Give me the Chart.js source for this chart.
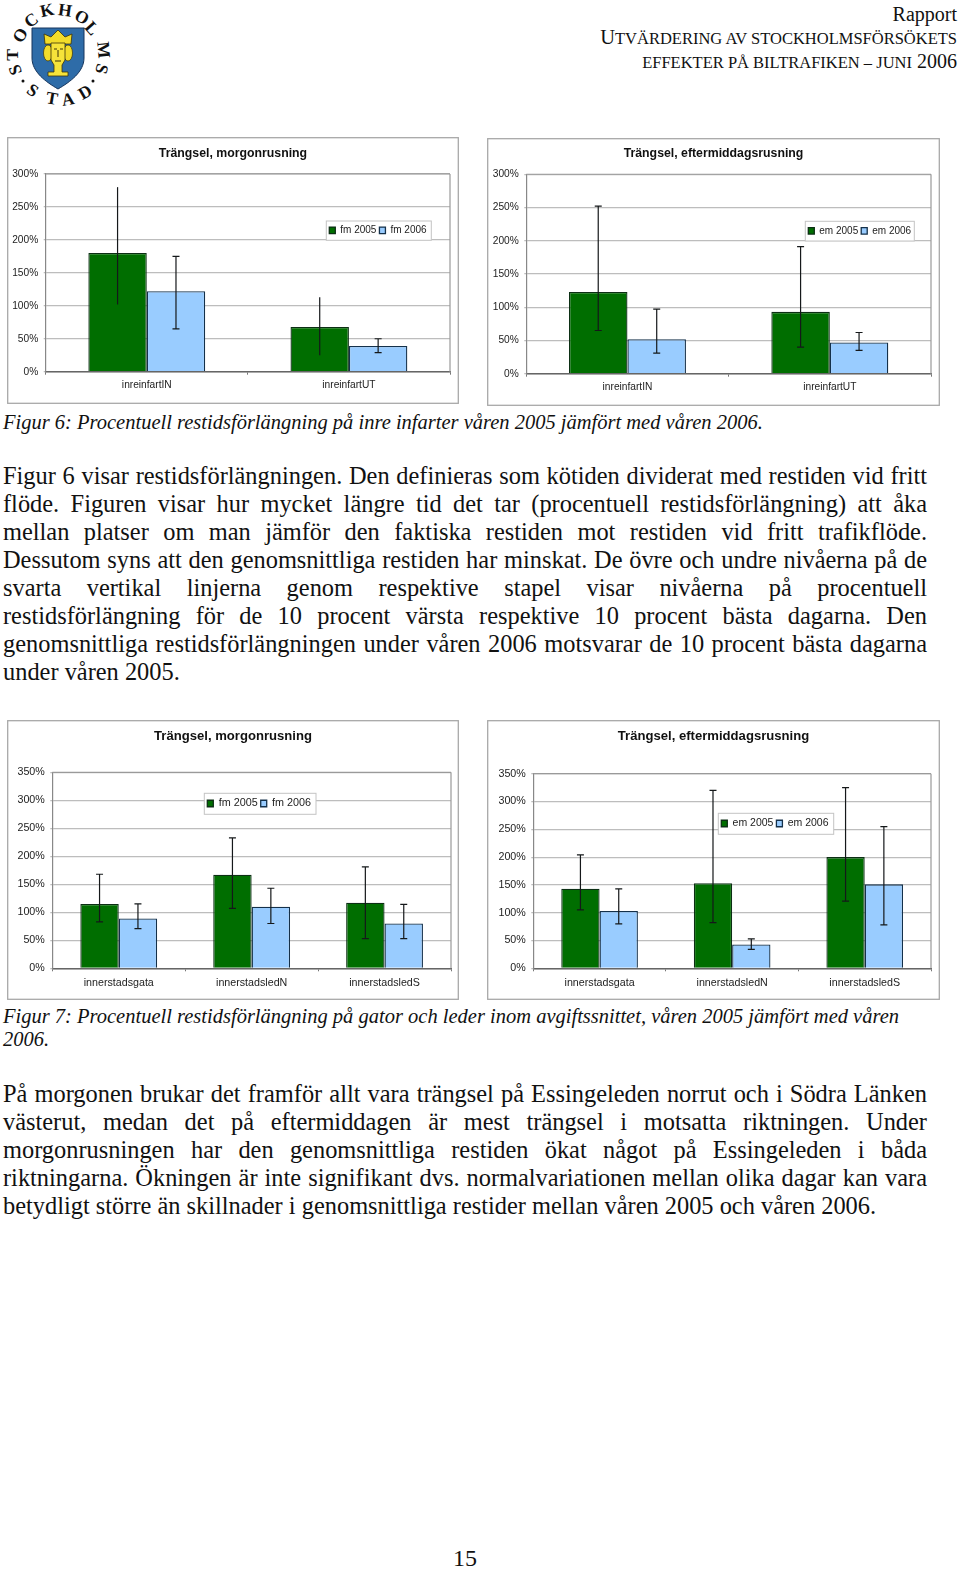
<!DOCTYPE html>
<html lang="sv"><head><meta charset="utf-8">
<script src="https://cdn.jsdelivr.net/npm/chart.js@4"></script>
<style>
html,body{margin:0;padding:0;background:#fff;width:960px;height:1571px;overflow:hidden}
body{position:relative;font-family:"Liberation Serif",serif;color:#111}
.t{position:absolute;white-space:nowrap;line-height:28px;height:28px}
.b{font-size:24.4px;left:3px}
.j{width:924px;white-space:normal;text-align:justify;text-align-last:justify}
.c{font-size:20.5px;font-style:italic;left:3px}
.h{right:3px;text-align:right}
.s{font-size:16.5px}
canvas{position:absolute;display:block}
svg{position:absolute;left:0;top:0}
</style></head><body>
<svg width="130" height="115" viewBox="0 0 130 115">
<path d="M32 28 H84 V58 C84 72 70 82 58 89 C46 82 32 72 32 58 Z" fill="#2e6ca8" stroke="#16355c" stroke-width="1"/>
<path d="M45 44 L44 34 L51 37 L58 30 L65 37 L72 34 L71 44 Z" fill="#f2dc2a" stroke="#3c3208" stroke-width=".8"/>
<ellipse cx="48" cy="53" rx="4.5" ry="8" fill="#f2dc2a" stroke="#3c3208" stroke-width=".7"/>
<ellipse cx="68" cy="53" rx="4.5" ry="8" fill="#f2dc2a" stroke="#3c3208" stroke-width=".7"/>
<path d="M51 43 H65 V60 L62 65 V72 H68 V76 H48 V72 H54 V65 L51 60 Z" fill="#f6e33a" stroke="#3c3208" stroke-width=".8"/>
<path d="M54 49 h3 M60 49 h3 M58 50 v7 M55 61 h6" stroke="#3c3208" stroke-width="1" fill="none"/>
<g font-family="Liberation Serif" font-weight="700" font-size="17.5" fill="#111" text-anchor="middle" dominant-baseline="central">
<text transform="translate(15,70) rotate(-110)">S</text>
<text transform="translate(12,55) rotate(-90)">T</text>
<text transform="translate(20,35) rotate(-60)">O</text>
<text transform="translate(31,20) rotate(-35)">C</text>
<text transform="translate(47,10) rotate(-12)">K</text>
<text transform="translate(65,10) rotate(8)">H</text>
<text transform="translate(82,17) rotate(28)">O</text>
<text transform="translate(92,28) rotate(48)">L</text>
<text transform="translate(104,50) rotate(85)">M</text>
<text transform="translate(102,69) rotate(105)">S</text>
<text transform="translate(33,90) rotate(35)">S</text>
<text transform="translate(52,98) rotate(10)">T</text>
<text transform="translate(68,99) rotate(-10)">A</text>
<text transform="translate(85,92) rotate(-30)">D</text>
</g>
<circle cx="23" cy="81" r="1.5" fill="#111"/><circle cx="93" cy="81" r="1.5" fill="#111"/>
</svg>

<div class="t h" style="top:0;font-size:20px">Rapport</div>
<div class="t h" style="top:23px;font-size:20.5px">U<span class="s">TVÄRDERING AV STOCKHOLMSFÖRSÖKETS</span></div>
<div class="t h" style="top:47px;font-size:20px"><span class="s">EFFEKTER PÅ BILTRAFIKEN – JUNI</span> 2006</div>

<canvas id="c1" width="452" height="267" style="left:7px;top:137px"></canvas>
<canvas id="c2" width="453" height="268" style="left:487px;top:138px"></canvas>
<div class="t c" style="top:408px">Figur 6: Procentuell restidsförlängning på inre infarter våren 2005 jämfört med våren 2006.</div>

<div class="t b j" style="top:462px">Figur 6 visar restidsförlängningen. Den definieras som kötiden dividerat med restiden vid fritt</div>
<div class="t b j" style="top:490px">flöde. Figuren visar hur mycket längre tid det tar (procentuell restidsförlängning) att åka</div>
<div class="t b j" style="top:518px">mellan platser om man jämför den faktiska restiden mot restiden vid fritt trafikflöde.</div>
<div class="t b j" style="top:546px">Dessutom syns att den genomsnittliga restiden har minskat. De övre och undre nivåerna på de</div>
<div class="t b j" style="top:574px">svarta vertikal linjerna genom respektive stapel visar nivåerna på procentuell</div>
<div class="t b j" style="top:602px">restidsförlängning för de 10 procent värsta respektive 10 procent bästa dagarna. Den</div>
<div class="t b j" style="top:630px">genomsnittliga restidsförlängningen under våren 2006 motsvarar de 10 procent bästa dagarna</div>
<div class="t b" style="top:658px">under våren 2005.</div>

<canvas id="c3" width="452" height="280" style="left:7px;top:720px"></canvas>
<canvas id="c4" width="453" height="280" style="left:487px;top:720px"></canvas>
<div class="t c" style="top:1002px">Figur 7: Procentuell restidsförlängning på gator och leder inom avgiftssnittet, våren 2005 jämfört med våren</div>
<div class="t c" style="top:1025px">2006.</div>

<div class="t b j" style="top:1080px">På morgonen brukar det framför allt vara trängsel på Essingeleden norrut och i Södra Länken</div>
<div class="t b j" style="top:1108px">västerut, medan det på eftermiddagen är mest trängsel i motsatta riktningen. Under</div>
<div class="t b j" style="top:1136px">morgonrusningen har den genomsnittliga restiden ökat något på Essingeleden i båda</div>
<div class="t b j" style="top:1164px">riktningarna. Ökningen är inte signifikant dvs. normalvariationen mellan olika dagar kan vara</div>
<div class="t b" style="top:1192px">betydligt större än skillnader i genomsnittliga restider mellan våren 2005 och våren 2006.</div>
<div class="t" style="top:1544px;left:453px;font-size:24px">15</div>

<script>
const catsInfart = ['inreinfartIN', 'inreinfartUT'];
const catsInner = ['innerstadsgata', 'innerstadsledN', 'innerstadsledS'];
const labelsFm = ['fm 2005', 'fm 2006'];
const labelsEm = ['em 2005', 'em 2006'];
const titleFm = 'Trängsel, morgonrusning';
const titleEm = 'Trängsel, eftermiddagsrusning';

const c1v05 = [180, 68],  c1v06 = [122, 39];
const c1hi05 = [280, 113], c1lo05 = [102, 25];
const c1hi06 = [175, 50],  c1lo06 = [65, 29];

const c2v05 = [123, 93],  c2v06 = [52, 47];
const c2hi05 = [252, 191], c2lo05 = [65, 40];
const c2hi06 = [97, 62],   c2lo06 = [31, 35];

const c3v05 = [115, 167, 117], c3v06 = [89, 110, 80];
const c3hi05 = [168, 233, 181], c3lo05 = [83, 107, 53];
const c3hi06 = [115, 143, 114], c3lo06 = [71, 80, 53];

const c4v05 = [143, 153, 200], c4v06 = [103, 43, 151];
const c4hi05 = [204, 320, 325], c4lo05 = [105, 82, 121];
const c4hi06 = [143, 53, 255],  c4lo06 = [80, 34, 78];

const F = 'Liberation Sans';
const rangePlugin = {
  id: 'rangeBars',
  afterDatasetsDraw(chart) {
    const {ctx, scales: {y}} = chart;
    chart.data.datasets.forEach((ds, d) => {
      const meta = chart.getDatasetMeta(d);
      meta.data.forEach((bar, i) => {
        const t = y.getPixelForValue(ds.hi[i]), b = y.getPixelForValue(ds.lo[i]);
        ctx.save();
        ctx.strokeStyle = '#15181a'; ctx.lineWidth = 1.2;
        ctx.beginPath();
        ctx.moveTo(bar.x, t); ctx.lineTo(bar.x, b);
        if (ds.caps) {
          ctx.moveTo(bar.x - 3.5, t); ctx.lineTo(bar.x + 3.5, t);
          ctx.moveTo(bar.x - 3.5, b); ctx.lineTo(bar.x + 3.5, b);
        }
        ctx.stroke();
        ctx.restore();
      });
    });
  }
};
const framePlugin = {
  id: 'frame',
  beforeDraw(chart) {
    const {ctx, width, height} = chart;
    ctx.save();
    ctx.fillStyle = '#fff'; ctx.fillRect(0, 0, width, height);
    ctx.strokeStyle = '#a8a8a8'; ctx.lineWidth = 1.3;
    ctx.strokeRect(0.7, 0.7, width - 1.4, height - 1.4);
    ctx.restore();
  },
  afterDraw(chart) {
    const {ctx, chartArea: a} = chart;
    ctx.save();
    ctx.strokeStyle = '#9a9a9a'; ctx.lineWidth = 1.2;
    ctx.beginPath();
    ctx.moveTo(a.right, a.top); ctx.lineTo(a.right, a.bottom);
    ctx.moveTo(a.left, a.top); ctx.lineTo(a.right, a.top);
    ctx.stroke();
    ctx.restore();
  }
};
const legendPlacer = {
  id: 'legendPlacer',
  beforeLayout(chart, args, o) {
    const lg = chart.legend;
    if (lg.__wrapped) return;
    lg.__wrapped = true;
    const fit = lg.fit, draw = lg.draw;
    lg.fit = function () { fit.call(this); this.height = 0; };
    lg.draw = function () {
      const c = this.ctx;
      c.save();
      c.fillStyle = '#fff'; c.strokeStyle = '#c4c4c4'; c.lineWidth = 1;
      c.fillRect(o.x, o.y, o.w, o.h); c.strokeRect(o.x, o.y, o.w, o.h);
      c.restore();
      draw.call(this);
    };
  },
  afterLayout(chart, args, o) {
    const lg = chart.legend, p = lg.options.labels.padding;
    const fs = lg.options.labels.font.size;
    lg.left = o.x + 3 - p; lg.right = lg.left + 300;
    lg.top = o.y + o.h / 2 - fs / 2 - p - 0.3; lg.bottom = lg.top + 60;
    lg.width = 300;
    chart.titleBlock.left = 0;
    chart.titleBlock.right = chart.width;
  }
};

function make(id, p) {
  return new Chart(document.getElementById(id), {
    type: 'bar',
    data: {
      labels: p.cats,
      datasets: [
        {label: p.labels[0], data: p.v05, hi: p.hi05, lo: p.lo05, caps: p.caps05,
         backgroundColor: '#006e00', borderColor: '#0c2f14', borderWidth: 1.3},
        {label: p.labels[1], data: p.v06, hi: p.hi06, lo: p.lo06, caps: true,
         backgroundColor: '#99ccff', borderColor: '#14304a', borderWidth: 1.3}
      ]
    },
    plugins: [framePlugin, legendPlacer, rangePlugin],
    options: {
      responsive: false, animation: false, devicePixelRatio: 1,
      events: [],
      layout: {padding: {left: 0, right: p.rightPad, top: 0, bottom: 0}},
      datasets: {bar: {barPercentage: 1, categoryPercentage: 0.578}},
      scales: {
        x: {
          grid: {offset: true, drawOnChartArea: false, color: '#777', tickLength: 3},
          border: {color: '#666', width: 1.4},
          ticks: {padding: p.xPad, color: '#222', font: {family: F, size: p.fs}, maxRotation: 0},
          afterFit: s => { s.height = p.xH; }
        },
        y: {
          min: 0, max: p.max,
          grid: {color: '#bdbdbd', lineWidth: 1.2, tickLength: 2},
          border: {color: '#888', width: 1.2},
          ticks: {stepSize: 50, padding: 5.5, color: '#222', font: {family: F, size: p.fs},
                  callback: v => v + '%'},
          afterFit: s => { s.width = p.yW; }
        }
      },
      plugins: {
        tooltip: {enabled: false},
        title: {display: true, text: p.title, color: '#111',
                font: {family: F, size: p.tfs, weight: 'bold'},
                padding: {top: p.tTop, bottom: p.tBot}},
        legend: {display: true, position: 'top', align: 'start',
                 labels: {boxWidth: 6, boxHeight: 6.5, padding: 3, color: '#222',
                          font: {family: F, size: p.lfs}}},
        legendPlacer: p.lg
      }
    }
  });
}

make('c1', {cats: catsInfart, labels: labelsFm, title: titleFm, max: 300, caps05: false,
  v05: c1v05, v06: c1v06, hi05: c1hi05, lo05: c1lo05, hi06: c1hi06, lo06: c1lo06,
  yW: 38.7, xH: 32.3, rightPad: 9, xPad: 4.6, fs: 10.2, lfs: 10, tfs: 12.3, tTop: 9, tBot: 13.2,
  lg: {x: 319.3, y: 84, w: 105, h: 19.3}});
make('c2', {cats: catsInfart, labels: labelsEm, title: titleEm, max: 300, caps05: true,
  v05: c2v05, v06: c2v06, hi05: c2hi05, lo05: c2lo05, hi06: c2hi06, lo06: c2lo06,
  yW: 39.3, xH: 32.3, rightPad: 9, xPad: 4.2, fs: 10.2, lfs: 10, tfs: 12.3, tTop: 8.6, tBot: 12.9,
  lg: {x: 318.3, y: 83.3, w: 109, h: 19.7}});
make('c3', {cats: catsInner, labels: labelsFm, title: titleFm, max: 350, caps05: true,
  v05: c3v05, v06: c3v06, hi05: c3hi05, lo05: c3lo05, hi06: c3hi06, lo06: c3lo06,
  yW: 45.3, xH: 31.7, rightPad: 8, xPad: 5.5, fs: 10.7, lfs: 10.8, tfs: 13.1, tTop: 9, tBot: 27.6,
  lg: {x: 197.3, y: 73.3, w: 111.7, h: 21}});
make('c4', {cats: catsInner, labels: labelsEm, title: titleEm, max: 350, caps05: true,
  v05: c4v05, v06: c4v06, hi05: c4hi05, lo05: c4lo05, hi06: c4hi06, lo06: c4lo06,
  yW: 46.3, xH: 31.7, rightPad: 9, xPad: 5.5, fs: 10.7, lfs: 10.5, tfs: 13.1, tTop: 8.4, tBot: 29.6,
  lg: {x: 231.3, y: 93.3, w: 115.4, h: 21}});
</script>
</body></html>
